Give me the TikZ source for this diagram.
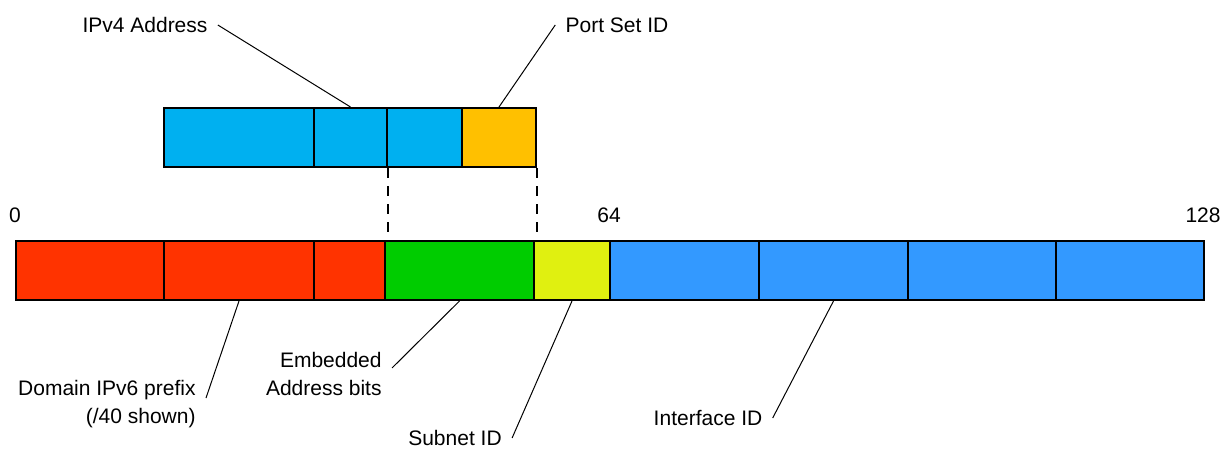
\documentclass[tikz,border=0pt]{standalone}
\usepackage{fontspec}
\setmainfont{Liberation Sans}
\usetikzlibrary{calc}
\definecolor{cRed}{HTML}{FF3300}
\definecolor{cGreen}{HTML}{00CC00}
\definecolor{cYellow}{HTML}{E0F010}
\definecolor{cBlue}{HTML}{3399FF}
\definecolor{cSky}{HTML}{00B0F0}
\definecolor{cOrange}{HTML}{FFC000}
\tikzset{
  seg/.style={draw=black, line width=1pt, rectangle, inner sep=0pt, anchor=north west, minimum height=29.5pt},
  lbl/.style={font=\fontsize{10.5pt}{14pt}\selectfont, inner sep=3pt},
  leader/.style={draw=black, line width=0.5pt},
  guide/.style={draw=black, line width=0.8pt, dash pattern=on 5pt off 4pt}
}
\begin{document}
\begin{tikzpicture}[x=0.5pt,y=-0.5pt]
\useasboundingbox (0,0) rectangle (1225,449);
% top IPv4 bar
\node[seg, fill=cSky, minimum width=75pt] (t1) at (163,107) {};
\node[seg, fill=cSky, minimum width=36.5pt] (t2) at (313,107) {};
\node[seg, fill=cSky, minimum width=37.5pt] (t3) at (386,107) {};
\node[seg, fill=cOrange, minimum width=37pt] (t4) at (461,107) {};
% bottom IPv6 bar
\node[seg, fill=cRed, minimum width=74pt] (r1) at (15,240) {};
\node[seg, fill=cRed, minimum width=75pt] (r2) at (163,240) {};
\node[seg, fill=cRed, minimum width=35.5pt] (r3) at (313,240) {};
\node[seg, fill=cGreen, minimum width=74.5pt] (g) at (384,240) {};
\node[seg, fill=cYellow, minimum width=38pt] (ys) at (533,240) {};
\node[seg, fill=cBlue, minimum width=74.5pt] (b1) at (609,240) {};
\node[seg, fill=cBlue, minimum width=74.5pt] (b2) at (758,240) {};
\node[seg, fill=cBlue, minimum width=74pt] (b3) at (907,240) {};
\node[seg, fill=cBlue, minimum width=74pt] (b4) at (1055,240) {};
% bit positions
\node[lbl] (n0) at (15,215) {0};
\node[lbl] (n64) at (609,215) {64};
\node[lbl] (n128) at (1203,215) {128};
% dashed guides
\draw[guide] (t2.south east) -- (t2.south east |- g.north);
\draw[guide] (t4.south east) -- (t4.south east |- ys.north);
% labels
\node[lbl, inner sep=5pt] (ipv4) at (145,25) {IPv4 Address};
\node[lbl, inner sep=5pt] (psid) at (617,25) {Port Set ID};
\node[lbl, align=right, anchor=east] (dom) at (202,404) {Domain IPv6 prefix\\(/40 shown)};
\node[lbl, align=right, anchor=east] (emb) at (388,374) {Embedded\\Address bits};
\node[lbl, inner sep=5pt] (sub) at (455,438) {Subnet ID};
\node[lbl, inner sep=5pt] (iid) at (708,418) {Interface ID};
% leaders
\draw[leader] (ipv4.east) -- (t2.north);
\draw[leader] (psid.west) -- (t4.north);
\draw[leader] (r2.south) -- ($(dom.east)+(4,-6)$);
\draw[leader] (g.south) -- ($(emb.east)+(4,-6)$);
\draw[leader] (ys.south) -- (sub.east);
\draw[leader] (b2.south) -- (iid.east);
\end{tikzpicture}
\end{document}
